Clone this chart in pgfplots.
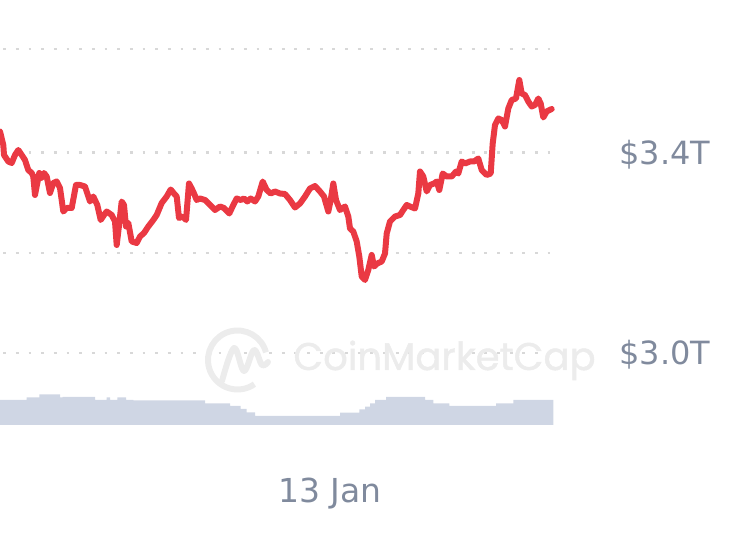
\documentclass[border=0pt]{standalone}
\usepackage{pgfplots}
\pgfplotsset{compat=1.18}
\usepackage{fontspec}
\setmainfont{DejaVu Sans}
\newfontfamily\wmfont{Poppins}[FakeBold=1.2]
\definecolor{cmcred}{RGB}{234,57,67}
\definecolor{lbl}{RGB}{128,138,157}
\definecolor{vol}{RGB}{207,214,228}
\definecolor{gridc}{RGB}{216,216,216}
\definecolor{wm}{RGB}{236,236,236}
\begin{document}
\begin{tikzpicture}
\pgfplotsset{base/.style={scale only axis, width=375pt, height=268pt, xmin=0, xmax=750, axis lines=none, ticks=none}}
% volume, grid, watermark, labels (y = pixels above volume baseline)
\begin{axis}[base, ymin=-111, ymax=425, clip=false]
\path (rel axis cs:0,0) rectangle (rel axis cs:1,1);
\addplot[const plot mark left, fill=vol, draw=none] coordinates {
(0,25) (26.7,27.7) (39.3,30.7) (60,27.7) (62.7,28) (95,25) (106.7,27.7) (110,25) (117.3,27.7) (126,25) (133.3,24.7) (205,21.7) (230,19) (240.7,16) (246.7,12.7) (255,9) (340,12.3) (359.3,15.7) (365,18.3) (370,21.7) (375,25) (386,28) (425,25) (433.3,21.7) (449.3,19) (496,21.7) (513.3,25) (553.3,25)} \closedcycle;
\pgfplotsinvokeforeach{376,272.5,172,72}{
  \draw[gridc, line width=1.4pt, dash pattern=on 1.4pt off 4.93pt] (axis cs:3.3,#1) -- (axis cs:560,#1);
}
% watermark
\draw[wm, line width=3pt] (axis cs:237.5,65) ++(15:14.75pt) arc[start angle=15, end angle=305, radius=14.75pt];
\draw[wm, line width=3pt, line cap=round, line join=round] plot[smooth, tension=0.6] coordinates {(axis cs:222,44) (axis cs:234,77) (axis cs:244,54) (axis cs:254,75) (axis cs:262,60) (axis cs:268,63)};
\node[anchor=base west, inner sep=0, text=wm, font=\wmfont\fontsize{19.3}{20}\selectfont] at (axis cs:293,55) {CoinMarketCap};
% labels
\node[anchor=base west, inner sep=0, text=lbl, font=\fontsize{16}{19}\selectfont] at (axis cs:619,260.5) {\$3.4T};
\node[anchor=base west, inner sep=0, text=lbl, font=\fontsize{16}{19}\selectfont] at (axis cs:619,60.5) {\$3.0T};
\node[anchor=base west, inner sep=0, text=lbl, font=\fontsize{16.5}{19}\selectfont] at (axis cs:278,-77.7) {13 Jan};
\end{axis}
% price line (trillion USD)
\begin{axis}[base, ymin=2.634, ymax=3.706]
\addplot[cmcred, line width=3pt, line join=round, line cap=round] coordinates {
(0,3.443) (3.3,3.416) (4,3.396) (8.3,3.383) (11.7,3.380) (15,3.396) (18.3,3.406) (21.7,3.396) (25,3.386) (28.3,3.366) (31.7,3.360) (33.3,3.353) (35,3.316) (37.3,3.340) (39.3,3.360) (41.7,3.350) (44,3.360) (46.7,3.353) (50,3.320) (53.3,3.340) (56.7,3.343) (60,3.330) (63.3,3.283) (66.7,3.290) (71.7,3.290) (76,3.336) (80,3.336) (85,3.333) (90,3.303) (93.3,3.313) (97.3,3.296) (100.7,3.266) (104,3.276) (106.7,3.283) (111.7,3.276) (115,3.263) (116.7,3.216) (119.3,3.260) (121.7,3.303) (124,3.296) (126,3.253) (128.3,3.260) (131.7,3.223) (136.7,3.220) (140,3.233) (144,3.240) (148.3,3.253) (153.3,3.266) (156.7,3.276) (161.7,3.300) (166.7,3.313) (170.7,3.327) (174,3.319) (176.7,3.313) (179,3.270) (182.7,3.273) (186,3.266) (189,3.339) (191.7,3.329) (194,3.319) (196.7,3.306) (200,3.309) (205,3.306) (210,3.296) (215,3.286) (220,3.293) (224,3.290) (229.3,3.279) (233.3,3.296) (236.7,3.309) (240.7,3.306) (244,3.309) (247.3,3.303) (250.7,3.309) (255,3.303) (258.3,3.313) (262.7,3.343) (266.7,3.326) (270.7,3.319) (275,3.323) (280,3.319) (285,3.318) (290,3.306) (295,3.291) (300,3.299) (305,3.313) (310,3.329) (315,3.334) (320,3.323) (324,3.313) (328.3,3.283) (330.7,3.306) (333.3,3.339) (336,3.306) (340,3.286) (345,3.293) (348.3,3.273) (350,3.249) (353.3,3.243) (356.7,3.223) (359.3,3.193) (361.7,3.153) (365,3.146) (368.3,3.166) (371.7,3.196) (374,3.173) (377.3,3.179) (381.7,3.183) (385,3.199) (386.7,3.239) (390,3.263) (395,3.273) (400,3.276) (403.3,3.286) (406.7,3.296) (410,3.293) (415,3.289) (418.3,3.319) (420,3.363) (423.3,3.353) (426.7,3.323) (430,3.336) (434,3.339) (436.7,3.343) (439.3,3.326) (442.7,3.359) (446.7,3.353) (451.7,3.353) (456,3.363) (458.3,3.359) (461.7,3.383) (465,3.379) (470,3.383) (474,3.383) (478.3,3.389) (481.7,3.366) (486.7,3.356) (490.7,3.359) (492.7,3.419) (495,3.456) (498.3,3.469) (501.7,3.466) (505,3.453) (508.3,3.489) (511.7,3.506) (516,3.509) (519.3,3.546) (521.7,3.519) (525,3.516) (528.3,3.503) (531.7,3.493) (535,3.496) (538.3,3.509) (540.7,3.499) (543.3,3.471) (546.7,3.483) (551.7,3.488)};
\end{axis}
\end{tikzpicture}
\end{document}
